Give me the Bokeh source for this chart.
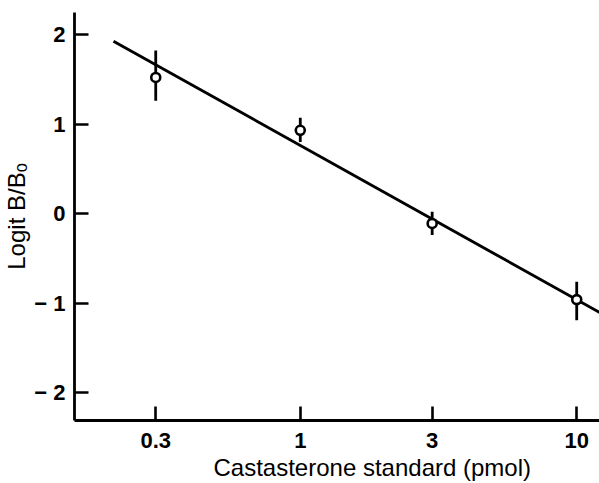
from bokeh.plotting import figure
from bokeh.models import Range1d, FixedTicker, ColumnDataSource, Title
from bokeh.embed import file_html
from bokeh.resources import INLINE

# Data
conc = [0.3, 1, 3, 10]                 # pmol castasterone standard
logit = [1.52, 0.93, -0.11, -0.96]     # logit B/Bo
err_upper = [1.82, 1.07, 0.02, -0.76]
err_lower = [1.26, 0.80, -0.24, -1.19]

fit_x = [0.211, 12.2]
fit_y = [1.925, -1.11]

x_ticks = [0.3, 1, 3, 10]
x_tick_labels = ["0.3", "1", "3", "10"]
y_ticks = [-2, -1, 0, 1, 2]
y_tick_labels = ["\u2212 2", "\u2212 1", "0", "1", "2"]

p = figure(width=599, height=483, x_axis_type="log",
           x_range=Range1d(0.1525, 12.09), y_range=Range1d(-2.31, 2.245),
           output_backend="svg", toolbar_location=None,
           min_border_left=74, min_border_right=0, min_border_top=12, min_border_bottom=63)
p.outline_line_color = None
p.grid.visible = False
p.background_fill_color = "white"
p.border_fill_color = "white"

src = ColumnDataSource(dict(x=conc, y=logit, lo=err_lower, hi=err_upper))

p.line(fit_x, fit_y, line_color="black", line_width=2.9)
p.segment(x0="x", y0="lo", x1="x", y1="hi", source=src, line_color="black", line_width=2.8)
p.scatter(x="x", y="y", source=src, marker="circle", size=9, fill_color="white",
          line_color="black", line_width=2.6)

for ax in (p.xaxis[0], p.yaxis[0]):
    ax.axis_line_width = 2.8
    ax.axis_line_color = "black"
    ax.major_tick_line_width = 2.6
    ax.major_tick_line_color = "black"
    ax.major_tick_in = 14
    ax.major_tick_out = 0
    ax.minor_tick_line_color = None
    ax.major_label_text_font = "Liberation Sans"
    ax.major_label_text_font_style = "bold"
    ax.major_label_text_font_size = "22px"
    ax.major_label_text_color = "black"
    ax.axis_label_text_font = "Liberation Sans"
    ax.axis_label_text_font_style = "normal"
    ax.axis_label_text_font_size = "24px"
    ax.axis_label_text_color = "black"

p.xaxis.ticker = FixedTicker(ticks=x_ticks)
p.xaxis.major_label_overrides = {t: l for t, l in zip(x_ticks, x_tick_labels)}
p.yaxis.ticker = FixedTicker(ticks=y_ticks)
p.yaxis.major_label_overrides = {t: l for t, l in zip(y_ticks, y_tick_labels)}

p.yaxis.axis_label = "Logit B/B\u2092"
p.xaxis.major_label_standoff = 12
p.yaxis.major_label_standoff = 9
p.yaxis.axis_label_standoff = 1

xtitle = Title(text="Castasterone standard (pmol)", align="left", offset=139,
               text_font="Liberation Sans", text_font_style="normal",
               text_font_size="24px", text_color="black", standoff=3)
p.add_layout(xtitle, "below")

open("out.html", "w").write(file_html(p, INLINE))
